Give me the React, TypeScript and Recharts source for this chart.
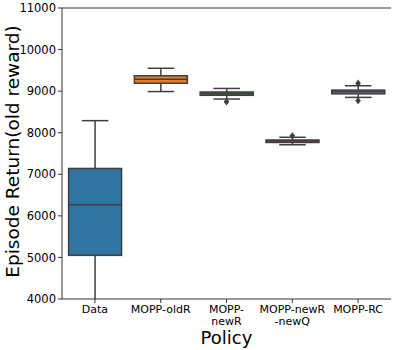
import React from 'react';
import { ComposedChart, Bar, Scatter, XAxis, YAxis, Label, ReferenceLine } from 'recharts';

const categories = ['Data', 'MOPP-oldR', 'MOPP-\nnewR', 'MOPP-newR\n-newQ', 'MOPP-RC'];
const whiskerLow = [3600, 8990, 8810, 7710, 8850];
const q1 = [5050, 9190, 8900, 7765, 8935];
const median = [6265, 9285, 8935, 7800, 8985];
const q3 = [7140, 9370, 8980, 7825, 9025];
const whiskerHigh = [8290, 9550, 9065, 7890, 9130];
const outlierCats = ['MOPP-\nnewR', 'MOPP-newR\n-newQ', 'MOPP-RC', 'MOPP-RC'];
const outlierValues = [8745, 7925, 9190, 8770];
const yTicks = [4000, 5000, 6000, 7000, 8000, 9000, 10000, 11000];
const colors = ['#3274a1', '#e1812c', '#3a923a', '#c03d3e', '#9372b2'];

const Y_MIN = 4000;
const Y_MAX = 11000;
const LINE = '#3f3f3f';
const FONT = 'DejaVu Sans';

const data = categories.map((name, i) => ({
  name,
  box: [q1[i], q3[i]],
  q1: q1[i],
  q3: q3[i],
  med: median[i],
  lo: whiskerLow[i],
  hi: whiskerHigh[i],
}));

const outliers = outlierCats.map((name, i) => ({ name, value: outlierValues[i] }));

const BoxShape = (props: any) => {
  const { x, y, width, height, payload, index } = props;
  const h = Math.abs(height);
  const top = Math.min(y, y + height);
  const ppu = h / (payload.q3 - payload.q1);
  const py = (v: number) => top + (payload.q3 - v) * ppu;
  const cx = x + width / 2;
  const capW = width / 2;
  const lo = Math.max(payload.lo, Y_MIN);
  const hi = Math.min(payload.hi, Y_MAX);
  return (
    <g>
      <line x1={cx} x2={cx} y1={py(hi)} y2={top} stroke={LINE} strokeWidth={1.5} />
      <line x1={cx} x2={cx} y1={top + h} y2={py(lo)} stroke={LINE} strokeWidth={1.5} />
      {payload.hi <= Y_MAX && (
        <line x1={cx - capW / 2} x2={cx + capW / 2} y1={py(hi)} y2={py(hi)} stroke={LINE} strokeWidth={1.5} />
      )}
      {payload.lo >= Y_MIN && (
        <line x1={cx - capW / 2} x2={cx + capW / 2} y1={py(lo)} y2={py(lo)} stroke={LINE} strokeWidth={1.5} />
      )}
      <rect x={x} y={top} width={width} height={h} fill={colors[index]} stroke={LINE} strokeWidth={1.5} />
      <line x1={x} x2={x + width} y1={py(payload.med)} y2={py(payload.med)} stroke={LINE} strokeWidth={1.5} />
    </g>
  );
};

const XTick = (props: any) => {
  const { x, y, payload } = props;
  const lines = String(payload.value).split('\n');
  return (
    <text x={x} y={y} textAnchor="middle" fontSize={11} fontFamily={FONT} fill="#000">
      {lines.map((l, i) => (
        <tspan key={i} x={x} dy={i === 0 ? '0.71em' : 12.5}>
          {l}
        </tspan>
      ))}
    </text>
  );
};

const Diamond = (props: any) => {
  const { cx, cy } = props;
  const r = 2.8;
  return (
    <path
      d={`M${cx},${cy - r * 1.3} L${cx + r},${cy} L${cx},${cy + r * 1.3} L${cx - r},${cy} Z`}
      fill={LINE}
    />
  );
};

export default function App() {
  return (
    <div style={{ position: 'absolute', left: 0, top: 0, background: '#fff' }}>
      <ComposedChart
        width={399}
        height={350}
        data={data}
        margin={{ top: 8, right: 8, left: 0, bottom: 0 }}
        barCategoryGap="10%"
      >
        <XAxis
          dataKey="name"
          type="category"
          allowDuplicatedCategory={false}
          height={51}
          tickSize={4}
          tickMargin={2}
          tick={<XTick />}
          stroke="#333"
          tickLine={{ stroke: '#333' }}
          interval={0}
        >
          <Label
            content={(p: any) => {
              const vb = p.viewBox;
              return (
                <text
                  x={vb.x + vb.width / 2}
                  y={vb.y + 44.5}
                  textAnchor="middle"
                  fontSize={18}
                  fontFamily={FONT}
                  fill="#000"
                >
                  Policy
                </text>
              );
            }}
          />
        </XAxis>
        <XAxis
          xAxisId="top"
          orientation="top"
          type="number"
          domain={[0, 1]}
          height={0}
          tick={false}
          tickLine={false}
          stroke="#333"
        />
        <YAxis
          domain={[Y_MIN, Y_MAX]}
          ticks={yTicks}
          width={62}
          tickSize={4}
          tickMargin={2}
          interval={0}
          stroke="#333"
          tick={{ fontSize: 11.5, fontFamily: FONT, fill: '#000' }}
        >
          <Label
            content={(p: any) => {
              const vb = p.viewBox;
              const cx = 12;
              const cy = vb.y + vb.height / 2 - 2;
              return (
                <text
                  x={cx}
                  y={cy}
                  transform={`rotate(-90 ${cx} ${cy})`}
                  textAnchor="middle"
                  dominantBaseline="central"
                  fontSize={18.5}
                  fontFamily={FONT}
                  fill="#000"
                >
                  Episode Return(old reward)
                </text>
              );
            }}
          />
        </YAxis>
        <YAxis
          yAxisId="right"
          orientation="right"
          type="number"
          domain={[0, 1]}
          width={0}
          tick={false}
          tickLine={false}
          stroke="#333"
        />
        <ReferenceLine y={Y_MAX} stroke="#333" strokeWidth={1} />
        <Bar dataKey="box" shape={<BoxShape />} isAnimationActive={false} />
        <Scatter data={outliers} dataKey="value" shape={<Diamond />} isAnimationActive={false} />
      </ComposedChart>
    </div>
  );
}
